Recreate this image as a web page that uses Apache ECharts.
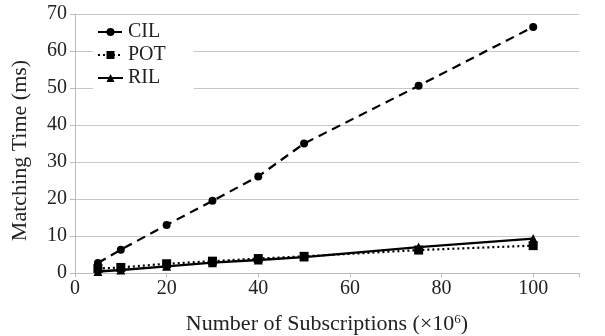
<!DOCTYPE html>
<html>
<head>
<meta charset="utf-8">
<script src="https://cdn.jsdelivr.net/npm/echarts@6/dist/echarts.min.js"></script>
<style>
  html, body { margin: 0; padding: 0; background: #fff; }
  #chart { width: 605px; height: 336px; }
</style>
</head>
<body>
<div id="chart"></div>
<script>
// Subscriptions (millions) and matching times (ms) per algorithm
const subscriptions = [5, 10, 20, 30, 40, 50, 75, 100];
const cilTimes = [2.7, 6.3, 13.0, 19.5, 26.1, 35.0, 50.6, 66.5];
const potTimes = [1.2, 1.5, 2.5, 3.2, 3.9, 4.5, 6.2, 7.4];
const rilTimes = [0.4, 0.8, 1.8, 2.8, 3.5, 4.3, 7.0, 9.3];
const xTicks = [0, 20, 40, 60, 80, 100];
const yTicks = [0, 10, 20, 30, 40, 50, 60, 70];

const FONT = 'Liberation Serif';
const INK = '#222';

function pairs(vals) {
  return subscriptions.map((x, i) => [x, vals[i]]);
}

const chart = echarts.init(document.getElementById('chart'), null, { renderer: 'canvas' });

chart.setOption({
  animation: false,
  backgroundColor: '#fff',
  grid: {
    left: 75, right: 26, top: 14, bottom: 63,
    containLabel: false,
    outerBoundsMode: 'none'
  },
  legend: {
    orient: 'vertical',
    left: 93,
    top: 19,
    itemWidth: 25,
    itemHeight: 10,
    itemGap: 1,
    padding: [2, 28, 2, 4],
    backgroundColor: '#fff',
    textStyle: { fontFamily: FONT, fontSize: 20, lineHeight: 22, color: INK },
    data: ['CIL', 'POT', 'RIL']
  },
  xAxis: {
    type: 'value',
    min: 0,
    max: 110,
    interval: 20,
    name: '{a|Number of Subscriptions (×10}{s|6}{a|)}',
    nameLocation: 'middle',
    nameGap: 40,
    nameTextStyle: {
      rich: {
        a: { fontFamily: FONT, fontSize: 22, color: INK },
        s: { fontFamily: FONT, fontSize: 13, color: INK, verticalAlign: 'top', padding: [0, 0, 10, 0] }
      }
    },
    axisLine: { show: true, lineStyle: { color: '#bbb', width: 1 } },
    axisTick: { show: true, length: 4, lineStyle: { color: '#bbb' } },
    splitLine: { show: false },
    axisLabel: {
      fontFamily: FONT, fontSize: 20, color: INK, margin: 6,
      customValues: xTicks
    }
  },
  yAxis: {
    type: 'value',
    min: 0,
    max: 70,
    interval: 10,
    name: 'Matching Time (ms)',
    nameLocation: 'middle',
    nameGap: 44,
    nameTextStyle: { fontFamily: FONT, fontSize: 22, color: INK, padding: [0, 14, 0, 0] },
    axisLine: { show: true, lineStyle: { color: '#bbb', width: 1 } },
    axisTick: { show: true, length: 5, lineStyle: { color: '#bbb' } },
    splitLine: { show: true, lineStyle: { color: '#c8c8c8', width: 1 } },
    axisLabel: {
      fontFamily: FONT, fontSize: 20, color: INK, margin: 8,
      formatter: v => (yTicks.includes(v) ? String(v) : '')
    }
  },
  series: [
    {
      name: 'CIL',
      type: 'line',
      data: pairs(cilTimes),
      symbol: 'circle',
      symbolSize: 8,
      itemStyle: { color: '#000' },
      lineStyle: { color: '#000', width: 2.2, type: [9, 6] },
      z: 3
    },
    {
      name: 'POT',
      type: 'line',
      data: pairs(potTimes),
      symbol: 'rect',
      symbolSize: 9,
      itemStyle: { color: '#000' },
      lineStyle: { color: '#000', width: 2.2, type: [2, 3] },
      z: 2
    },
    {
      name: 'RIL',
      type: 'line',
      data: pairs(rilTimes),
      symbol: 'triangle',
      symbolSize: 9,
      itemStyle: { color: '#000' },
      lineStyle: { color: '#000', width: 2.4, type: 'solid' },
      z: 4
    }
  ]
});
</script>
</body>
</html>
